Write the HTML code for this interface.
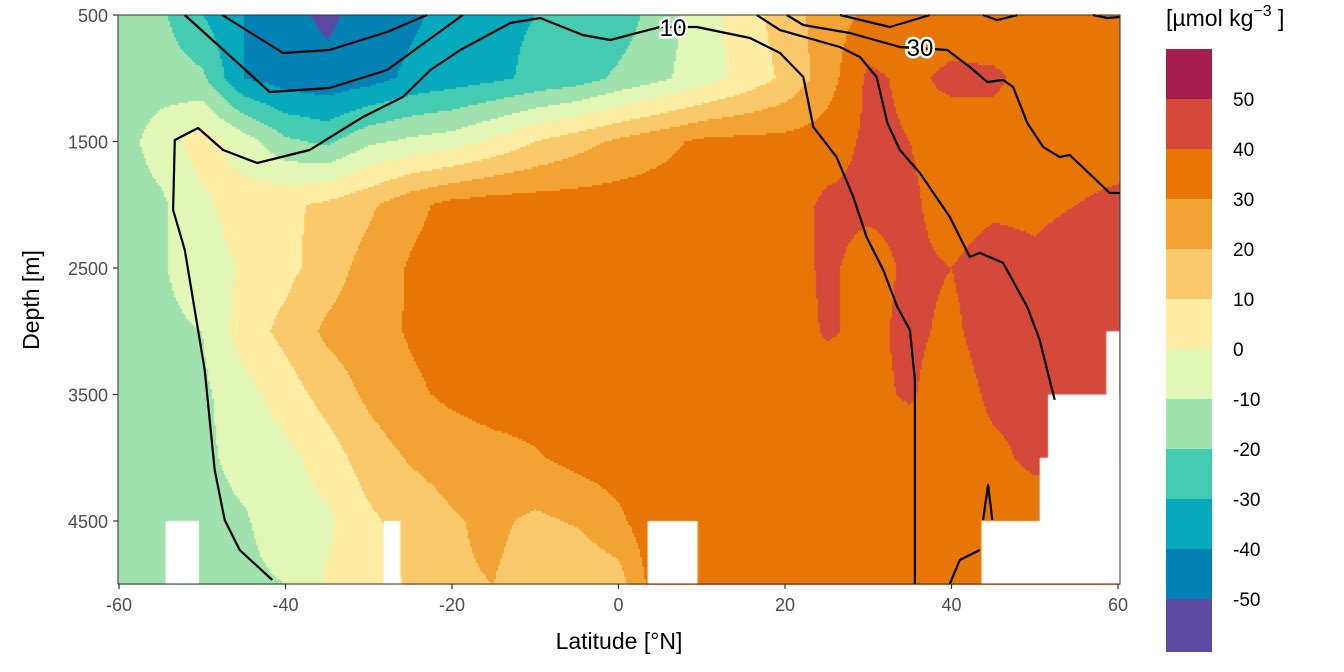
<!DOCTYPE html>
<html><head><meta charset="utf-8"><style>
body{margin:0;background:#fff;width:1344px;height:672px;overflow:hidden;font-family:"Liberation Sans",sans-serif}
#wrap{position:relative;width:1344px;height:672px}
canvas,svg{position:absolute;left:0;top:0}
</style></head><body>
<div id="wrap">
<canvas id="cv" width="1344" height="672"></canvas>
<svg id="sv" width="1344" height="672"></svg>
</div>
<script>
const lats=[-60,-55,-50,-45,-40,-35,-30,-25,-20,-15,-10,-5,0,5,10,15,20,25,30,35,40,45,50,55,60];
const depths=[500,1000,1500,2000,2500,3000,3500,4000,4500,5000];
const field=[
[-15,-18,-30,-40,-47,-52,-46,-42,-36,-32,-30,-28,-26,-15,-5,5,15,25,32,35,35,32,35,35,35],
[-15,-15,-18,-40,-45,-47,-44,-38,-35,-32,-28,-25,-18,-12,-5,3,12,25,42,38,42,42,36,35,35],
[-15,-5,5,-5,-18,-22,-12,-8,-5,2,10,16,22,27,32,33,33,35,42,40,35,35,35,36,36],
[-15,-12,-2,5,8,12,18,27,33,35,35,35,35,35,35,35,35,42,42,42,35,38,38,40,42],
[-15,-11,-5,1,7,15,24,31,35,35,35,35,35,35,35,35,35,42,36,42,40,45,42,45,45],
[-15,-12,-10,5,13,22,26,31,35,35,35,35,35,35,35,35,35,41,38,42,38,45,45,45,45],
[-15,-13,-12,-4,5,14,22,28,32,35,35,35,35,35,35,35,35,35,38,41,35,42,42,45,52],
[-15,-13,-12,-7,-3,5,15,21,24,26,29,33,35,35,35,35,35,35,35,35,35,38,42,42,42],
[-16,-14,-13,-11,-5,-2,8,14,19,22,18,21,28,38,35,35,35,35,35,35,35,35,35,35,35],
[-20,-15,-13,-12,-10,1,5,11,19,20,15,11,15,38,35,35,35,35,35,35,35,35,35,35,35]];
const levels=[-50,-40,-30,-20,-10,0,10,20,30,40,50];
const bandColors=["#5c4aa0","#0281b5","#06aabc","#45cbb2","#9fe2ad","#e2f6b5","#feeda3","#fac96c","#f3a333","#e87606","#d5493a","#a51c4f"];
const xTicks=[-60,-40,-20,0,20,40,60];
const yTicks=[500,1500,2500,3500,4500];
const maskLatMin=[-54.4,-28.2,3.5,43.6,50.6,51.6,58.6];
const maskLatMax=[-50.4,-26.2,9.5,60.2,60.2,60.2,60.2];
const maskDepthTop=[4500,4500,4500,4500,4000,3500,3000];
const contourLines=[
[[-47.6,500],[-40.3,800],[-34.7,777],[-27.8,634],[-23,500]],
[[-52.1,500],[-41.9,1109],[-34.7,1077],[-27.8,935],[-18.7,500]],
[[-41.6,4966],[-45.5,4729],[-47.3,4492],[-48.5,4097],[-49.7,3306],[-52.1,2358],[-53.5,2041],[-53.3,1488],[-50.5,1393],[-47.5,1567],[-43.4,1670],[-37.1,1567],[-30.7,1306],[-25.9,1148],[-22.6,935],[-19,777],[-13,563],[-9.4,524],[-4.3,658],[-1,698],[5,595],[9.4,595],[15.8,682],[19.4,800],[22.2,990],[23.4,1385],[26.2,1623],[28.2,1939],[29.8,2255],[31.8,2516],[33.5,2808],[35,2990],[35.6,3385],[35.6,5000]],
[[16.6,500],[19.4,619],[26.6,753],[29,832],[31,990],[32.3,1354],[33.8,1567],[36.2,1749],[39.8,2097],[42.2,2413],[43.4,2381],[46.2,2460],[49.1,2808],[50.6,3069],[51.8,3385],[52.4,3543]],
[[20.2,500],[22.2,579],[27.8,642],[33.8,753],[39.5,777],[42.2,911],[44.3,1030],[46.2,1014],[47.4,1069],[49.1,1354],[51,1543],[53,1623],[54.2,1607],[57,1781],[59,1907],[60.2,1907]],
[[26.6,500],[32.6,595],[37.4,500]],[[43.8,500],[45.5,540],[47.9,500]],[[57,500],[58.7,524],[60.2,516]],
[[39.8,5000],[41,4808],[43.4,4729]],[[43.8,4492],[44.4,4215],[44.9,4492]]];

const X0=119,X1=1118,Y0=15,Y1=521;
const xs=l=>X0+(l+60)*(X1-X0)/120;
const ys=d=>Y0+(d-500)*(Y1-Y0)/4000;
const PB=584,PR=1120,PL=118;
function colorFor(v){let i=0;while(i<levels.length&&v>=levels[i])i++;return bandColors[i];}
function sample(lat,dep){
  let fi=(lat-lats[0])/5,fj=(dep-depths[0])/500;
  fi=Math.max(0,Math.min(lats.length-1.0001,fi));fj=Math.max(0,Math.min(depths.length-1.0001,fj));
  const i=Math.floor(fi),j=Math.floor(fj),a=fi-i,b=fj-j;
  return field[j][i]*(1-a)*(1-b)+field[j][i+1]*a*(1-b)+field[j+1][i]*(1-a)*b+field[j+1][i+1]*a*b;
}
const cv=document.getElementById('cv'),cx=cv.getContext('2d');
const S=2;
for(let px=PL;px<PR;px+=S){for(let py=Y0;py<PB;py+=S){
  const lat=(px+S/2-X0)*120/(X1-X0)-60,dep=500+(py+S/2-Y0)*4000/(Y1-Y0);
  cx.fillStyle=colorFor(sample(lat,dep));cx.fillRect(px,py,S,S);}}
cx.fillStyle="#fff";
for(let k=0;k<maskLatMin.length;k++){const x=xs(maskLatMin[k]),x2=Math.min(PR,xs(maskLatMax[k]));const y=ys(maskDepthTop[k]);cx.fillRect(x,y,x2-x,PB-y);}

const NS="http://www.w3.org/2000/svg",sv=document.getElementById('sv');
function mk(t,at,txt){const e=document.createElementNS(NS,t);for(const k in at)e.setAttribute(k,at[k]);if(txt!==undefined)e.textContent=txt;sv.appendChild(e);return e;}
contourLines.forEach(line=>{
  const p=mk('polyline',{points:line.map(q=>Math.min(PR,xs(q[0])).toFixed(1)+','+Math.min(PB,ys(q[1])).toFixed(1)).join(' '),fill:'none',stroke:'#000','stroke-width':2.2,'stroke-linejoin':'round'});
  
  
});
[["10",673,28],["30",920,48]].forEach(l=>{
  const t=mk('text',{x:l[1],y:l[2]+8,'text-anchor':'middle','font-size':24,fill:'#000',stroke:'#fff','stroke-width':5,'paint-order':'stroke'},l[0]);
  
  
});
let r=mk('rect',{x:PL,y:Y0,width:PR-PL,height:PB-Y0,fill:'none',stroke:'#333','stroke-width':1});


xTicks.forEach(v=>{
  const l=mk('line',{x1:xs(v),x2:xs(v),y1:PB,y2:PB+5,stroke:'#333','stroke-width':1.2});
  
  
  const t=mk('text',{x:xs(v),y:PB+27,'text-anchor':'middle','font-size':18,fill:'#4d4d4d'},String(v));
  
  
});
yTicks.forEach(v=>{
  const l=mk('line',{x1:PL-5,x2:PL,y1:ys(v),y2:ys(v),stroke:'#333','stroke-width':1.2});
  
  
  const t=mk('text',{x:PL-10,y:ys(v)+7,'text-anchor':'end','font-size':18,fill:'#4d4d4d'},String(v));
  
  
});
let xt=mk('text',{x:619,y:649,'text-anchor':'middle','font-size':23,fill:'#000'},'Latitude [°N]');


let yt=mk('text',{x:0,y:0,transform:'translate(39,300) rotate(-90)','text-anchor':'middle','font-size':23,fill:'#000'},'Depth [m]');


let lt=mk('text',{x:1166,y:26,'font-size':23,fill:'#000'});


lt.innerHTML='[µmol kg<tspan dy="-10" font-size="16">−3</tspan><tspan dy="10"> ]</tspan>';
const cbTop=49,cbStep=50;
for(let i=0;i<bandColors.length;i++){
  const idx=bandColors.length-1-i;
  const y=cbTop+i*cbStep,h=(i===bandColors.length-1)?53:cbStep;
  const b=mk('rect',{x:1166,y:y,width:46,height:h,fill:bandColors[idx]});
  
  
}
levels.slice().reverse().forEach((v,i)=>{
  const t=mk('text',{x:1233,y:cbTop+(i+1)*cbStep+7,'font-size':19,fill:'#000'},String(v));
  
  
});
</script>
</body></html>
